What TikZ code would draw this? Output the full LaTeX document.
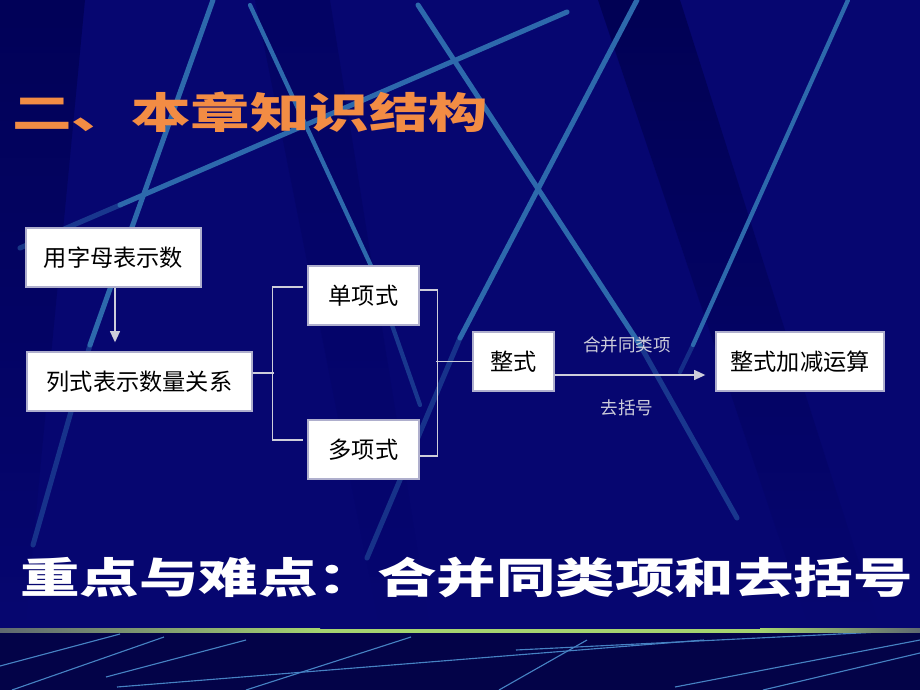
\documentclass[tikz,border=0pt]{standalone}
\usepackage{fontspec}
\newfontfamily\cjk{Noto Sans CJK SC}
\usetikzlibrary{arrows.meta,calc}
\definecolor{slidebg}{RGB}{6,6,112}
\definecolor{lowbg}{RGB}{3,3,72}
\definecolor{bandbg}{RGB}{0,0,78}
\definecolor{bgblue}{RGB}{45,105,172}
\definecolor{thinblue}{RGB}{70,130,195}
\definecolor{titleorange}{RGB}{242,140,68}
\definecolor{boxline}{RGB}{175,175,205}
\definecolor{connline}{RGB}{205,205,218}
\definecolor{bargreen}{RGB}{165,212,112}
\definecolor{bargrey}{RGB}{95,105,112}
\begin{document}
\begin{tikzpicture}[x=0.025cm,y=-0.025cm,
    box/.style={draw=boxline,fill=white,line width=0.9pt,inner sep=0pt,minimum height=59*0.025cm,
        font=\cjk\fontsize{16.5}{18}\selectfont},
    conn/.style={draw=connline,line width=1.2pt},
    tip/.style={-{Triangle[length=8pt,width=7pt]}},
    lbl/.style={text=connline,inner sep=0pt,font=\cjk\fontsize{12.5}{14}\selectfont},
    bgline/.style={draw=bgblue,line width=3.6pt,line cap=round},
    lowline/.style={draw=thinblue,line width=0.8pt}]
    \def\pxu{0.025cm}
    \useasboundingbox (0,0) rectangle (920,690);
    \fill[slidebg] (0,0) rectangle (920,629);
    \fill[lowbg] (0,629) rectangle (920,690);
    \shade[top color=bandbg,bottom color=slidebg,opacity=.7] (0,0) -- (85,0) -- (25,629) -- (0,629) -- cycle;
    \shade[top color=bandbg,bottom color=slidebg,opacity=.8] (598,0) -- (680,0) -- (880,629) -- (810,629) -- cycle;
    \shade[top color=bandbg,bottom color=slidebg,opacity=.35] (255,0) -- (330,0) -- (430,629) -- (380,629) -- cycle;
    \draw[bgline] (213,0) -- (90,345);
    \draw[bgline,opacity=.45] (90,345) -- (33,545);
    \draw[bgline,line width=3pt] (250,5) -- (372,268);
    \draw[bgline,line width=3pt,opacity=.5] (372,268) -- (420,405);
    \draw[bgline,opacity=.5] (20,248) -- (120,205);
    \draw[bgline] (120,205) -- (567,12);
    \draw[bgline] (418,5) -- (640,345);
    \draw[bgline,opacity=.5] (640,345) -- (737,518);
    \draw[bgline] (637,0) -- (460,338);
    \draw[bgline,opacity=.45] (460,338) -- (367,558);
    \draw[bgline,line width=3pt] (848,0) -- (693,345);
    \draw[bgline,line width=3pt,opacity=.4] (693,345) -- (680,372);
    \begin{scope}
        \clip (0,632) rectangle (920,690);
        \draw[lowline] (12,690) -- (164,637);
        \draw[lowline] (106,677) -- (246,640);
        \draw[lowline] (246,690) -- (411,637);
        \draw[lowline] (117,687) -- (704,640);
        \draw[lowline] (499,690) -- (587,640);
        \draw[lowline] (516,650) -- (920,630);
        \draw[lowline] (675,687) -- (920,640);
        \draw[lowline] (763,690) -- (920,653);
        \draw[lowline] (0,666) -- (120,634);
    \end{scope}
    \shade[left color=bargrey,right color=bargreen] (0,628.5) rectangle (320,632.5);
    \fill[bargreen] (320,628.5) rectangle (760,632.5);
    \shade[left color=bargreen,right color=bargrey] (760,628.5) rectangle (920,632.5);
    \node[anchor=west,inner sep=0pt,text=titleorange] (title) at (12,112)
        {\scalebox{1.41}[1]{\cjk\bfseries\fontsize{30}{32}\selectfont 二、本章知识结构}};
    \node[box,minimum width=175*\pxu] (letter) at (113.5,257.5) {用字母表示数};
    \node[box,minimum width=225*\pxu] (expr) at (139.5,381.5) {列式表示数量关系};
    \node[box,minimum width=111*\pxu] (mono) at (363.5,295.5) {单项式};
    \node[box,minimum width=111*\pxu] (poly) at (363.5,449.5) {多项式};
    \node[box,minimum width=81*\pxu] (whole) at (513.5,361.5) {整式};
    \node[box,minimum width=168*\pxu] (ops) at (800,361.5) {整式加减运算};
    \node[lbl] (merge) at (627,345) {合并同类项};
    \node[lbl] (unbr) at (627,408) {去括号};
    \draw[conn,tip,shorten >=6.4pt] ($(letter.south)+(1.5,0)$) -- ($(letter.south |- expr.north)+(1.5,0)$);
    \draw[conn] ($(expr.east)+(0,-8.5)$) -- ++(21,0);
    \draw[conn] ($(mono.west)+(-4,-8.5)$) -| ($(poly.west)+(-35,-9.5)$) -- ++(31,0);
    \draw[conn] ($(mono.east)+(0,-5.5)$) -- ++(18,0) |- ($(poly.east)+(0,6.5)$);
    \draw[conn] (whole.west) -- ++(-36,0);
    \draw[conn,tip] ($(whole.east)+(0,13.5)$) -- ($(ops.west)+(-10,13.5)$);
    \node[anchor=west,inner sep=0pt,text=white] (keypt) at (20,578)
        {\scalebox{1.41}[1]{\cjk\bfseries\fontsize{30}{32}\selectfont 重点与难点：合并同类项和去括号}};
\end{tikzpicture}
\end{document}
